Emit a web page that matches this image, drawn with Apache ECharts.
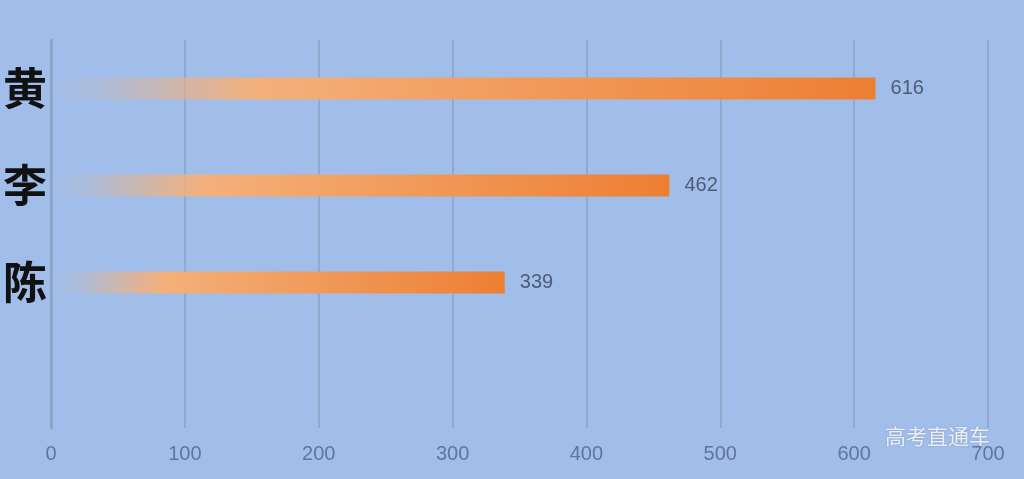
<!DOCTYPE html>
<html>
<head>
<meta charset="utf-8">
<script src="https://cdn.jsdelivr.net/npm/echarts@6/dist/echarts.min.js"></script>
<style>
  html, body { margin: 0; padding: 0; background: #a1beea; }
  #chart { width: 1024px; height: 479px; }
</style>
</head>
<body>
<div id="chart"></div>
<script>
// names, last slot is empty (the reference leaves a blank row at the bottom)
const names = ['黄', '李', '陈', '']
const scores = [616, 462, 339, null]
const xTicks = [0, 100, 200, 300, 400, 500, 600, 700]

const myChart = echarts.init(document.getElementById('chart'))

const option = {
  backgroundColor: '#a1beea',
  grid: {
    left: 50,
    right: 36,
    top: 40,
    bottom: 51,
  },
  xAxis: {
    type: 'value',
    min: xTicks[0],
    max: xTicks[xTicks.length - 1],
    interval: 100,
    axisLine: { show: false },
    axisTick: { show: false },
    axisLabel: {
      margin: 16,
      color: '#62759a',
      fontSize: 20,
      fontFamily: 'Liberation Sans',
    },
    splitLine: {
      show: true,
      lineStyle: { color: '#8ea2c4', width: 1.5 },
    },
  },
  yAxis: {
    type: 'category',
    inverse: true,
    data: names,
    axisLine: {
      show: true,
      lineStyle: { color: '#8ea2c4', width: 2.5 },
    },
    axisTick: { show: false },
    axisLabel: {
      margin: 4,
      color: '#111',
      fontSize: 44,
      fontWeight: 'bold',
      fontFamily: 'Noto Sans CJK SC',
    },
  },
  series: [
    {
      type: 'bar',
      data: scores,
      barWidth: 22,
      itemStyle: {
        color: new echarts.graphic.LinearGradient(0, 0, 1, 0, [
          { offset: 0, color: 'rgba(240,175,125,0)' },
          { offset: 0.06, color: 'rgba(240,175,125,0.15)' },
          { offset: 0.25, color: 'rgba(244,176,122,1)' },
          { offset: 1, color: '#ed7f33' },
        ]),
      },
      label: {
        show: true,
        position: 'right',
        distance: 15,
        color: '#4f5b72',
        fontSize: 20,
        fontFamily: 'Liberation Sans',
      },
    },
  ],
  graphic: [
    {
      type: 'text',
      left: 885,
      top: 426,
      style: {
        text: '高考直通车',
        fill: 'rgba(245,245,250,0.9)',
        fontSize: 21,
        fontFamily: 'Noto Sans CJK SC',
        textShadowColor: 'rgba(60,70,90,0.35)',
        textShadowBlur: 2,
      },
    },
  ],
}
myChart.setOption(option)
</script>
</body>
</html>
